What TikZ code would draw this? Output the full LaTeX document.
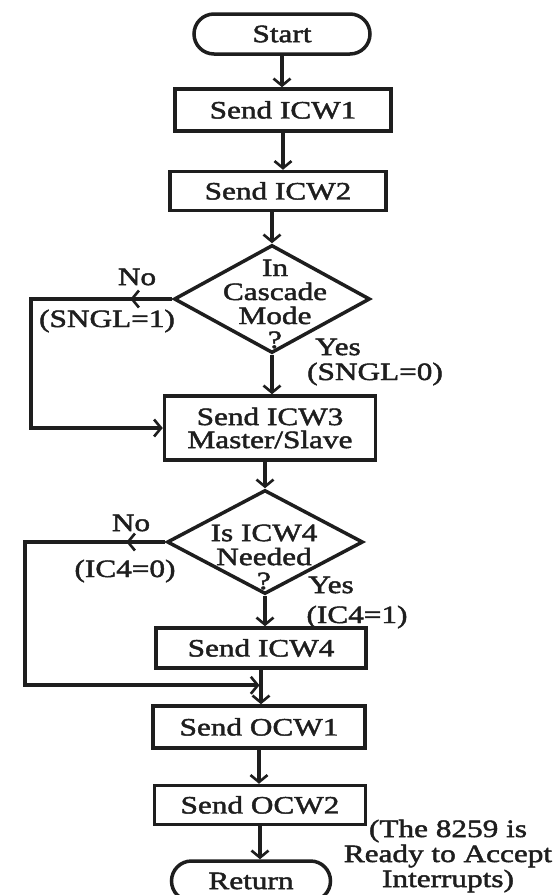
\documentclass[tikz,border=0pt]{standalone}
\usepackage{fontspec}
\setmainfont{Liberation Serif}[FakeStretch=1.25,FakeBold=1.8]
\usetikzlibrary{shapes.geometric,shapes.misc,arrows.meta,decorations.markings,calc}
\definecolor{ink}{HTML}{1E1E1E}
\tikzset{
  base/.style={draw=ink, line width=3.5pt, text=ink, font=\fontsize{25}{25}\selectfont, inner sep=0pt, align=center},
  proc/.style={base, rectangle},
  term/.style={base, rounded rectangle},
  dia/.style={base, diamond},
  dtext/.style={text=ink, inner sep=0pt, align=center},
  lbl/.style={text=ink, font=\fontsize{25}{25}\selectfont, inner sep=0pt, align=center},
  barb/.tip={Straight Barb[length=7pt,width=17pt,line width=2.6pt]},
  flow/.style={draw=ink, line width=3.8pt, -barb},
  midarrow/.style={postaction={decorate}, decoration={markings, mark=at position #1 with {\arrow{barb}}}}
}
\begin{document}
\begin{tikzpicture}[x=1pt, y=-1pt]
\useasboundingbox[fill=white] (0,0) rectangle (555,895);

% nodes
\node[term, minimum width=176pt, minimum height=40pt] (start) at (282,34) {Start};
\node[proc, minimum width=216pt, minimum height=42pt] (icw1) at (283,110) {Send ICW1};
\node[proc, minimum width=216pt, minimum height=39pt] (icw2) at (278,191) {Send ICW2};
\node[dia, minimum width=196pt, minimum height=108pt] (d1) at (272,299) {};
\node[dtext, font=\fontsize{25}{24}\selectfont] (d1t) at (275,304) {In\\Cascade\\Mode\\?};
\node[proc, minimum width=211pt, minimum height=64pt, font=\fontsize{25}{23}\selectfont] (icw3) at (270,428) {Send ICW3\\Master/Slave};
\node[dia, minimum width=196pt, minimum height=104pt] (d2) at (265,542) {};
\node[dtext, font=\fontsize{25}{24}\selectfont] (d2t) at (264,557) {Is ICW4\\Needed\\?};
\node[proc, minimum width=210pt, minimum height=40pt] (icw4) at (261,648) {Send ICW4};
\node[proc, minimum width=212pt, minimum height=42pt] (ocw1) at (259,727) {Send OCW1};
\node[proc, minimum width=211pt, minimum height=39pt] (ocw2) at (260,805) {Send OCW2};
\node[term, minimum width=159pt, minimum height=40pt] (ret) at (251,881) {Return};

% labels
\node[lbl] (no1) at (137,277) {No};
\node[lbl] (sngl1) at (107,321) {(SNGL=1)};
\node[lbl] (yes1) at (338,347) {Yes};
\node[lbl] (sngl0) at (375,374) {(SNGL=0)};
\node[lbl] (no2) at (131,523) {No};
\node[lbl] (ic40) at (125,571) {(IC4=0)};
\node[lbl] (yes2) at (331,585) {Yes};
\node[lbl] (ic41) at (357,617) {(IC4=1)};
\node[lbl, font=\fontsize{25}{25}\selectfont] (note) at (448,856) {(The 8259 is\\Ready to Accept\\Interrupts)};

% connectors
\draw[flow] (start.south) -- (start.south |- icw1.north);
\draw[flow] (icw1.south) -- (icw1.south |- icw2.north);
\draw[flow] (d1.north |- icw2.south) -- (d1.north);
\draw[flow] (d1.south) -- (d1.south |- icw3.north);
\draw[flow] (d2.north |- icw3.south) -- (d2.north);
\draw[flow] (d2.south) -- (d2.south |- icw4.north);
\draw[flow] (icw4.south) -- (icw4.south |- ocw1.north);
\draw[flow] (ocw1.south) -- (ocw1.south |- ocw2.north);
\draw[flow] (ocw2.south) -- (ocw2.south |- ret.north);

\coordinate (c1) at ($(d1.west)+(-141,0)$);
\draw[flow, midarrow=42pt] (d1.west) -- (c1) |- (icw3.west);

\coordinate (c2) at ($(d2.west)+(-140,0)$);
\coordinate (j) at ($(icw4.south)!0.45!(icw4.south |- ocw1.north)$);
\draw[flow, midarrow=39pt, shorten >=1.5pt] (d2.west) -- (c2) |- (j);
\end{tikzpicture}
\end{document}
